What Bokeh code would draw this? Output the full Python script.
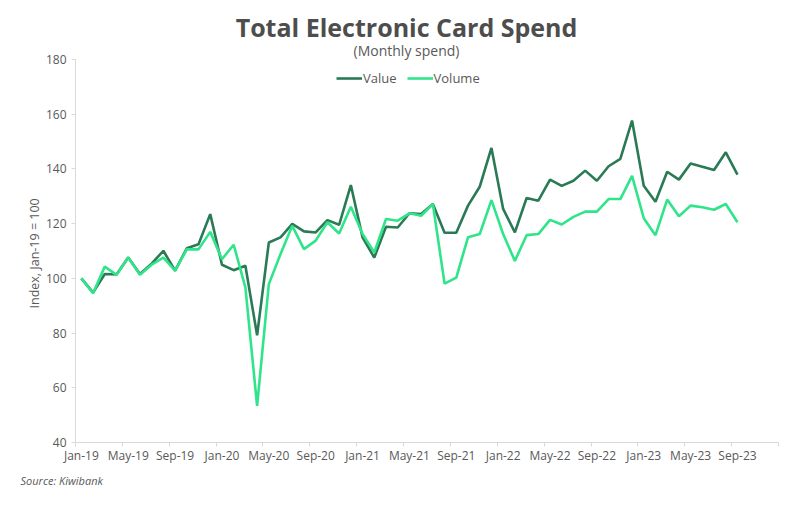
from bokeh.plotting import figure
from bokeh.models import (ColumnDataSource, FixedTicker, Legend, LegendItem, Title, Label)
from bokeh.embed import file_html
from bokeh.resources import INLINE

months = ["Jan-19","Feb-19","Mar-19","Apr-19","May-19","Jun-19","Jul-19","Aug-19","Sep-19","Oct-19","Nov-19","Dec-19",
          "Jan-20","Feb-20","Mar-20","Apr-20","May-20","Jun-20","Jul-20","Aug-20","Sep-20","Oct-20","Nov-20","Dec-20",
          "Jan-21","Feb-21","Mar-21","Apr-21","May-21","Jun-21","Jul-21","Aug-21","Sep-21","Oct-21","Nov-21","Dec-21",
          "Jan-22","Feb-22","Mar-22","Apr-22","May-22","Jun-22","Jul-22","Aug-22","Sep-22","Oct-22","Nov-22","Dec-22",
          "Jan-23","Feb-23","Mar-23","Apr-23","May-23","Jun-23","Jul-23","Aug-23","Sep-23"]

value = [100, 94.8, 101.6, 101.4, 107.6, 101.6, 105.4, 110.1, 102.8, 111.0, 112.5, 123.5,
         105.0, 103.0, 104.6, 79.2, 113.1, 115.0, 119.9, 117.2, 116.8, 121.3, 119.6, 134.1,
         115.0, 107.6, 118.9, 118.6, 123.8, 123.5, 127.2, 116.7, 116.7, 126.6, 133.5, 147.7,
         125.4, 116.8, 129.4, 128.4, 136.1, 133.8, 135.7, 139.4, 135.7, 141.0, 143.7, 157.7,
         133.9, 128.0, 139.0, 136.1, 142.0, 140.8, 139.6, 146.1, 137.9]

volume = [100, 94.6, 104.3, 101.3, 107.6, 101.3, 105.0, 107.6, 102.8, 110.6, 110.6, 117.0,
          107.0, 112.3, 96.7, 53.4, 97.9, 108.9, 119.2, 110.7, 113.8, 120.5, 116.4, 126.2,
          116.2, 109.5, 121.7, 121.1, 123.8, 122.9, 127.2, 98.1, 100.3, 115.0, 116.2, 128.6,
          116.2, 106.4, 115.8, 116.2, 121.4, 119.7, 122.5, 124.4, 124.4, 129.0, 129.0, 137.5,
          122.0, 115.8, 128.8, 122.7, 126.6, 126.0, 125.1, 127.2, 120.5]

tick_labels = ["Jan-19","May-19","Sep-19","Jan-20","May-20","Sep-20","Jan-21","May-21",
               "Sep-21","Jan-22","May-22","Sep-22","Jan-23","May-23","Sep-23"]
y_ticks = [40, 60, 80, 100, 120, 140, 160, 180]

FONT = "Open Sans"
GREY = "#595959"
AXIS = "#d9d9d9"
C_VALUE = "#2a7a56"
C_VOLUME = "#30e48a"

idx = list(range(len(months)))
src = ColumnDataSource(dict(x=idx, month=months, value=value, volume=volume))

# frame extends above the 180 line so the title/subtitle can sit inside it;
# the y axis itself is bounded to 40..180
Y_TOP = 180 + 51 * 140 / 382.5
p = figure(width=792, height=500, output_backend="svg", toolbar_location=None,
           x_range=(-0.5, 59.5), y_range=(40, Y_TOP),
           min_border_left=75, min_border_right=14, min_border_top=8, min_border_bottom=58)
p.outline_line_color = None
p.grid.grid_line_color = None
p.background_fill_color = "white"

r1 = p.line("x", "value", source=src, line_color=C_VALUE, line_width=2.6)
r2 = p.line("x", "volume", source=src, line_color=C_VOLUME, line_width=2.6)

# x axis
major = [months.index(t) for t in tick_labels]
minor = [m - 0.5 for m in major] + [59.5]
p.xaxis.ticker = FixedTicker(ticks=major, minor_ticks=minor)
p.xaxis.major_label_overrides = {m: t for m, t in zip(major, tick_labels)}
p.xaxis.major_tick_line_color = None
p.xaxis.major_tick_out = 0
p.xaxis.major_tick_in = 0
p.xaxis.minor_tick_line_color = AXIS
p.xaxis.minor_tick_out = 4
p.xaxis.minor_tick_in = 0
p.xaxis.axis_line_color = AXIS
p.xaxis.major_label_standoff = 0
p.xaxis.major_label_text_font = FONT
p.xaxis.major_label_text_font_size = "12px"
p.xaxis.major_label_text_color = GREY

# y axis
p.yaxis.ticker = FixedTicker(ticks=y_ticks)
p.yaxis.bounds = (40, 180)
p.yaxis.minor_tick_line_color = None
p.yaxis.major_tick_line_color = AXIS
p.yaxis.major_tick_out = 4
p.yaxis.major_tick_in = 0
p.yaxis.axis_line_color = AXIS
p.yaxis.major_label_standoff = 5
p.yaxis.major_label_text_font = FONT
p.yaxis.major_label_text_font_size = "12px"
p.yaxis.major_label_text_color = GREY

# y axis title as a side Title so it can be centred on the 40..180 span
ytitle = Title(text="Index, Jan-19 = 100", align="left", offset=134,
               text_font=FONT, text_font_size="12.5px", text_font_style="normal",
               text_color=GREY, standoff=0)
p.add_layout(ytitle, "left")

legend = Legend(items=[LegendItem(label="Value", renderers=[r1]),
                       LegendItem(label="Volume", renderers=[r2])],
                orientation="horizontal", location=(261, 355),
                padding=0, margin=0, spacing=10, label_standoff=1,
                glyph_width=26, glyph_height=16, label_height=16,
                label_text_font=FONT, label_text_font_size="13px",
                label_text_color=GREY, background_fill_alpha=0,
                border_line_color=None)
p.add_layout(legend, "center")

# Title and subtitle (screen offsets from the frame's bottom-left corner)
title = Label(x=331, y=416, x_units="screen", y_units="screen",
              text="Total Electronic Card Spend", text_align="center", text_baseline="middle",
              text_font=FONT, text_font_size="25px", text_font_style="bold", text_color="#4d4d4d")
subtitle = Label(x=331, y=392, x_units="screen", y_units="screen",
                 text="(Monthly spend)", text_align="center", text_baseline="middle",
                 text_font=FONT, text_font_size="14px", text_color=GREY)
p.add_layout(title)
p.add_layout(subtitle)

source = Title(text="Source: Kiwibank", align="left", offset=-58,
               text_font=FONT, text_font_size="11px", text_font_style="italic",
               text_color=GREY, standoff=9)
if "padding" in Title.properties():
    source.padding = (3, 0, 0, 0)
p.add_layout(source, "below")

open("out.html", "w").write(file_html(p, INLINE))
